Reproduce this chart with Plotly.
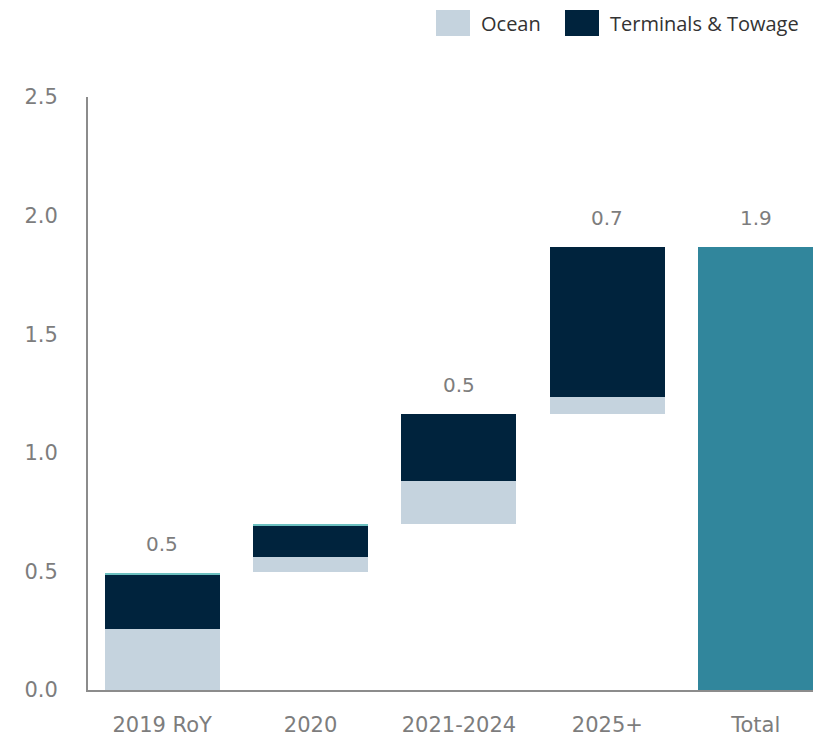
import plotly.graph_objects as go

# waterfall of stacked contributions
categories = ["2019 RoY", "2020", "2021-2024", "2025+", "Total"]
base = [0.0, 0.497, 0.70, 1.165, 0.0]
ocean = [0.257, 0.064, 0.181, 0.071, 0.0]
terminals = [0.232, 0.134, 0.283, 0.632, 0.0]
other = [0.006, 0.005, 0.0, 0.0, 0.0]
total = [0.0, 0.0, 0.0, 0.0, 1.868]
labels = ["0.5", "0.2", "0.5", "0.7", "1.9"]

OCEAN = "#C5D3DE"
TERMINALS = "#00233D"
OTHER = "#6CC0C0"
TOTAL = "#31869C"
GREY = "#7D7D7D"
FONT = "DejaVu Sans"

W, H = 813, 740
L, R, T, B = 88, 0, 97, 50

fig = go.Figure()
fig.add_bar(x=categories, y=base, marker=dict(color="rgba(0,0,0,0)", line=dict(width=0)),
            showlegend=False, hoverinfo="skip")
fig.add_bar(x=categories, y=ocean, name="Ocean", marker=dict(color=OCEAN, line=dict(width=0)))
fig.add_bar(x=categories, y=terminals, name="Terminals & Towage", marker=dict(color=TERMINALS, line=dict(width=0)))
fig.add_bar(x=categories, y=other, name="Other", marker=dict(color=OTHER, line=dict(width=0)), showlegend=False)
fig.add_bar(x=categories, y=total, name="Total", marker=dict(color=TOTAL, line=dict(width=0)), showlegend=False)

# value labels above each bar
tops = [b + o + t + x + s for b, o, t, x, s in zip(base, ocean, terminals, other, total)]
for cat, top, lab in zip(categories, tops, labels):
    fig.add_annotation(x=cat, y=top, text=lab, showarrow=False, yanchor="bottom", yshift=15,
                       font=dict(family=FONT, size=20, color=GREY))


# hand-drawn legend with large swatches (pixel -> paper coords)
def px_x(p):
    return (p - L) / (W - L - R)


def px_y(p):
    return (H - B - p) / (H - T - B)


for x0, name, color in [(436, "Ocean", OCEAN), (565, "Terminals & Towage", TERMINALS)]:
    fig.add_shape(type="rect", xref="paper", yref="paper", x0=px_x(x0), x1=px_x(x0 + 34),
                  y0=px_y(36), y1=px_y(10), fillcolor=color, line=dict(width=0))
    fig.add_annotation(xref="paper", yref="paper", x=px_x(x0 + 43), y=px_y(24), text=name,
                       showarrow=False, xanchor="left", yanchor="middle",
                       font=dict(family="Open Sans", size=20, color="#333333"))

fig.update_layout(
    width=W, height=H,
    margin=dict(l=L, r=R, t=T, b=B),
    barmode="stack",
    bargap=0.225,
    showlegend=False,
    plot_bgcolor="white",
    paper_bgcolor="white",
    font=dict(family=FONT, color=GREY),
)
fig.update_xaxes(range=[-0.5, 4.386], showline=True, linecolor="#8C8C8C", linewidth=2,
                 ticks="", ticklabelstandoff=15, automargin=False,
                 tickfont=dict(family=FONT, size=21, color=GREY))
fig.update_yaxes(range=[0, 2.5], dtick=0.5, tickformat=".1f", showgrid=False, zeroline=False,
                 showline=True, linecolor="#8C8C8C", linewidth=2, ticks="", automargin=False,
                 ticklabelstandoff=24, tickfont=dict(family=FONT, size=21, color=GREY))

fig.write_html("out.html", config={"displayModeBar": False},
               post_script="document.body.style.margin='0';")
